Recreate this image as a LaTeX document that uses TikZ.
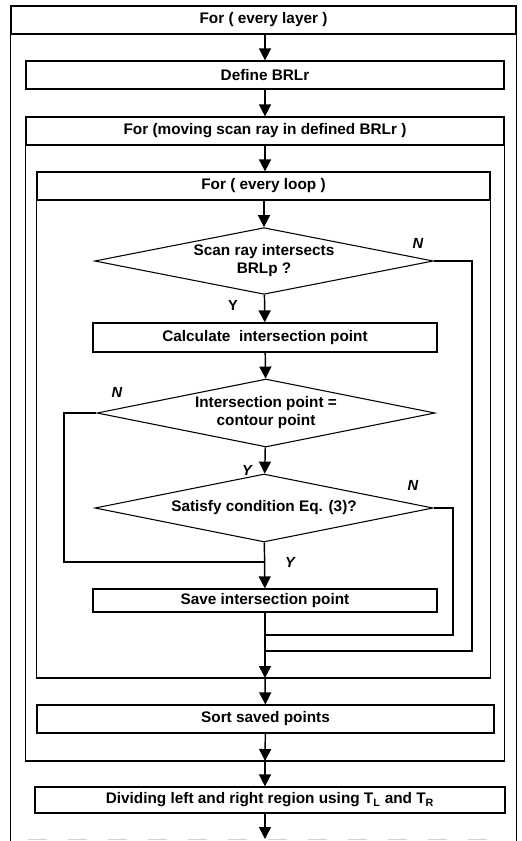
\documentclass[tikz,border=0pt]{standalone}
\usepackage{fontspec}
\setmainfont{Liberation Sans}
\usetikzlibrary{shapes.geometric,arrows.meta}

\begin{document}
\begin{tikzpicture}[x=0.75pt, y=-0.75pt,
    every node/.style={font=\bfseries\fontsize{11.5}{13.5}\selectfont},
    head/.style={rectangle, draw, line width=0.9pt, minimum height=21pt, inner sep=0pt},
    box/.style={rectangle, draw, line width=0.9pt, minimum height=21pt, inner sep=0pt},
    test/.style={diamond, draw, line width=0.8pt, aspect=5, inner sep=0pt,
        minimum width=254pt, minimum height=50pt, align=center},
    lab/.style={font=\bfseries\itshape\fontsize{11}{13}\selectfont, inner sep=0pt},
    frame/.style={line width=0.9pt},
    arr/.style={-{Triangle[length=9pt, width=9pt]}, line width=1.1pt},
    back/.style={line width=0.8pt}
]
    \useasboundingbox (0,0) rectangle (521,841);

    % loop headers
    \node[head, minimum width=378.75pt] (layer) at (263.5,20) {For ( every layer )};
    \node[head, minimum width=358.5pt] (scan) at (265,131) {For (moving scan ray in defined BRLr )};
    \node[head, minimum width=339.75pt] (loop) at (263.5,186) {For ( every loop )};

    % steps
    \node[box, minimum width=358.5pt] (brl) at (265,75) {Define BRLr};
    \node[test] (hit) at (264,261) {Scan ray intersects\\BRLp ?};
    \node[box, minimum width=258pt, minimum height=21.75pt] (calc) at (265,337.5) {Calculate\ \ intersection point};
    \node[test, minimum width=253.5pt, minimum height=51pt] (same) at (266,413) {Intersection point =\\contour point};
    \node[test, minimum width=253.5pt, minimum height=51pt] (cond) at (264,508) {Satisfy condition Eq. (3)?};
    \node[box, minimum width=258pt, minimum height=17.25pt] (save) at (265,600.5) {Save intersection point};
    \node[box, minimum width=342.75pt] (sort) at (265.5,719) {Sort saved points};
    \node[box, minimum width=352.5pt, minimum height=19.5pt] (divide) at (270,800)
        {Dividing left and right region using T\textsubscript{L} and T\textsubscript{R}};

    \coordinate (loop3end) at (265,678);
    \coordinate (loop2end) at (265,761);
    \coordinate (pagebot) at (265,841);
    \coordinate (next) at (265,839);

    % frames
    \draw[frame] (layer.north west) -- (layer.north west |- pagebot);
    \draw[frame] (layer.north east) -- (layer.north east |- pagebot);
    \draw[frame] (scan.north west) rectangle (scan.east |- loop2end);
    \draw[frame] (loop.north west) rectangle (loop.east |- loop3end);
    \draw[gray!35, line width=0.5pt, dash pattern=on 14pt off 16pt] (28,839) -- (500,839);

    % main flow
    \draw[arr] (brl.north |- layer.south) -- (brl);
    \draw[arr] (brl) -- (brl.south |- scan.north);
    \draw[arr] (scan) -- (scan.south |- loop.north);
    \draw[arr] (hit.north |- loop.south) -- (hit);
    \draw[arr] (hit) -- (calc);
    \draw[arr] (calc) -- (same);
    \draw[arr] (same) -- (cond);
    \draw[arr] (cond) -- (save);
    \draw[arr] (save) -- (loop3end);
    \draw[arr] (loop3end) -- (sort);
    \draw[arr] (sort) -- (loop2end);
    \draw[arr] (loop2end) -- (loop2end |- divide.north);
    \draw[arr] (next |- divide.south) -- (next);

    % no branches
    \draw[back] (hit.east) -| (472,651) -- (save.south |- 0,651);
    \draw[back] (same.west) -| (64,562) -- (save.north |- 0,562);
    \draw[back] (cond.east) -| (453,635) -- (save.south |- 0,635);

    \node[lab] (n1) at (418,243) {N};
    \node[lab, font=\bfseries\fontsize{11}{13}\selectfont] (y1) at (233,305) {Y};
    \node[lab] (n2) at (117,392) {N};
    \node[lab] (y2) at (247,470) {Y};
    \node[lab] (n3) at (413,485) {N};
    \node[lab] (y3) at (290,562) {Y};
\end{tikzpicture}
\end{document}
